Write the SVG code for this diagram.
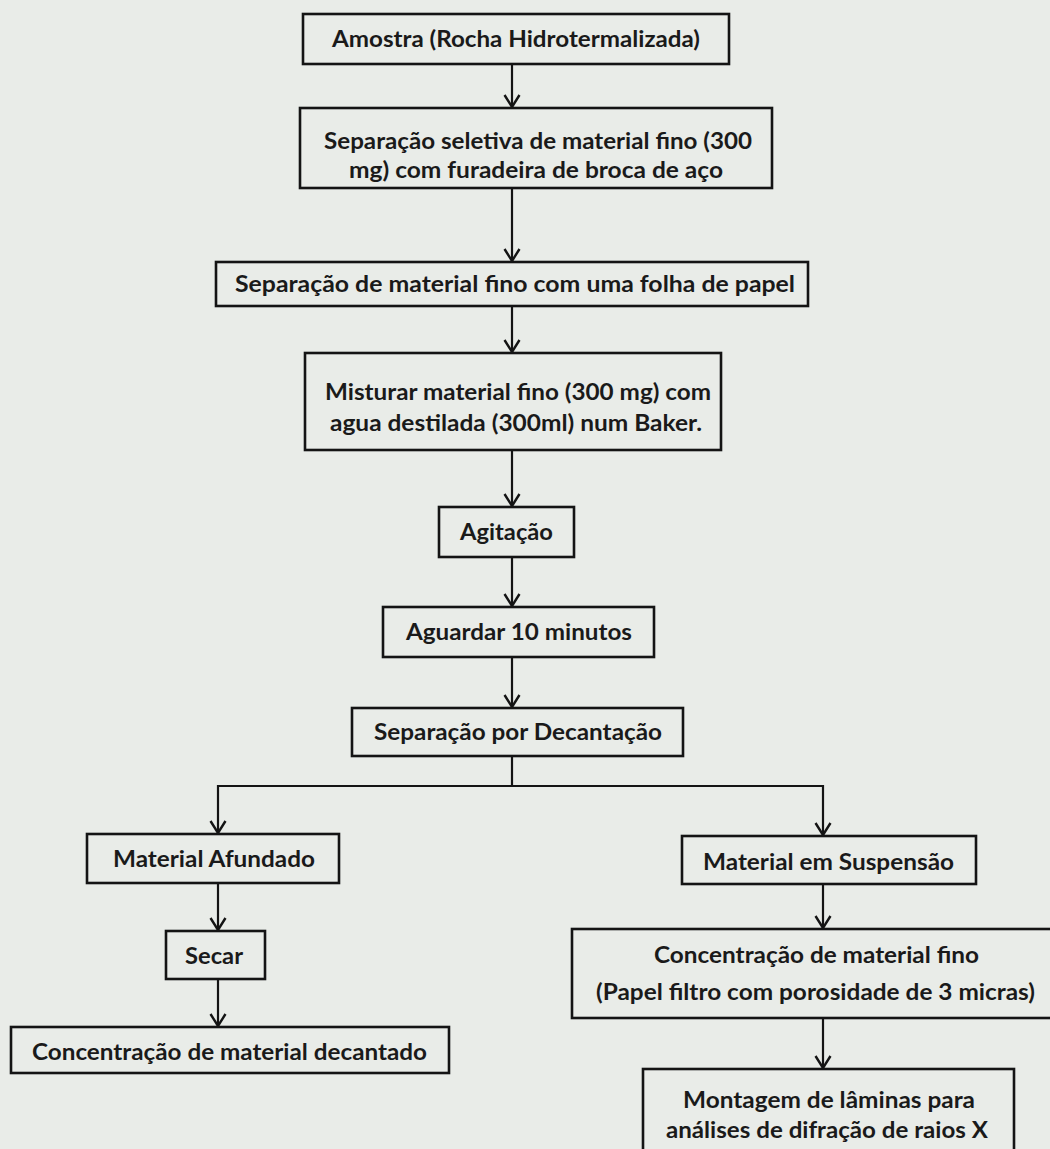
<svg xmlns="http://www.w3.org/2000/svg" width="1050" height="1149" viewBox="0 0 1050 1149">
  <defs>
    <marker id="arr" markerUnits="userSpaceOnUse" viewBox="-14 -10 16 20" refX="0" refY="0" markerWidth="16" markerHeight="20" orient="auto">
      <path d="M-12,-7.5 L0,0 L-12,7.5" fill="none" stroke="#141414" stroke-width="2.4" stroke-linejoin="miter"/>
    </marker>
    <style>
      .box { fill: none; stroke: #141414; stroke-width: 2.6; }
      .t { font-family: Lato, "Open Sans", "Liberation Sans", sans-serif; font-weight: 700; font-size: 22px; fill: #1a1a1a; text-anchor: middle; }
      .c { fill: none; stroke: #141414; stroke-width: 2.2; }
      .ca { fill: none; stroke: #141414; stroke-width: 2.2; marker-end: url(#arr); }
    </style>
  </defs>
  <rect x="0" y="0" width="1050" height="1149" fill="#e9ece8"/>

  <g id="connectors">
    <line class="ca" x1="512" y1="64" x2="512" y2="107"/>
    <line class="ca" x1="512" y1="188" x2="512" y2="261"/>
    <line class="ca" x1="512" y1="306" x2="512" y2="352"/>
    <line class="ca" x1="512" y1="450" x2="512" y2="506"/>
    <line class="ca" x1="512" y1="557" x2="512" y2="606"/>
    <line class="ca" x1="512" y1="657" x2="512" y2="707"/>
    <polyline class="c" points="512,756 512,786"/>
    <polyline class="ca" points="512,786 218,786 218,833"/>
    <polyline class="ca" points="512,786 823,786 823,835"/>
    <line class="ca" x1="218" y1="883" x2="218" y2="930"/>
    <line class="ca" x1="218" y1="979" x2="218" y2="1026"/>
    <line class="ca" x1="823" y1="884" x2="823" y2="928"/>
    <line class="ca" x1="823" y1="1018" x2="823" y2="1068"/>
  </g>

  <g id="n1">
    <rect class="box" x="303" y="14" width="426" height="50"/>
    <text class="t" x="516" y="47" textLength="368" lengthAdjust="spacingAndGlyphs">Amostra (Rocha Hidrotermalizada)</text>
  </g>
  <g id="n2">
    <rect class="box" x="300" y="108" width="472" height="80"/>
    <text class="t" x="538" y="149" textLength="428" lengthAdjust="spacingAndGlyphs">Separação seletiva de material fino (300</text>
    <text class="t" x="536" y="178" textLength="374" lengthAdjust="spacingAndGlyphs">mg) com furadeira de broca de aço</text>
  </g>
  <g id="n3">
    <rect class="box" x="216" y="262" width="592" height="44"/>
    <text class="t" x="515" y="292" textLength="560" lengthAdjust="spacingAndGlyphs">Separação de material fino com uma folha de papel</text>
  </g>
  <g id="n4">
    <rect class="box" x="305" y="353" width="416" height="97"/>
    <text class="t" x="518" y="400" textLength="386" lengthAdjust="spacingAndGlyphs">Misturar material fino (300 mg) com</text>
    <text class="t" x="516" y="431" textLength="372" lengthAdjust="spacingAndGlyphs">agua destilada (300ml) num Baker.</text>
  </g>
  <g id="n5">
    <rect class="box" x="439" y="507" width="135" height="50"/>
    <text class="t" x="506.5" y="540" textLength="93" lengthAdjust="spacingAndGlyphs">Agitação</text>
  </g>
  <g id="n6">
    <rect class="box" x="383" y="607" width="271" height="50"/>
    <text class="t" x="519" y="640" textLength="226" lengthAdjust="spacingAndGlyphs">Aguardar 10 minutos</text>
  </g>
  <g id="n7">
    <rect class="box" x="352" y="708" width="331" height="48"/>
    <text class="t" x="518" y="740" textLength="288" lengthAdjust="spacingAndGlyphs">Separação por Decantação</text>
  </g>
  <g id="n8">
    <rect class="box" x="87" y="834" width="252" height="49"/>
    <text class="t" x="214" y="867" textLength="202" lengthAdjust="spacingAndGlyphs">Material Afundado</text>
  </g>
  <g id="n9">
    <rect class="box" x="166" y="931" width="99" height="48"/>
    <text class="t" x="214" y="964" textLength="58" lengthAdjust="spacingAndGlyphs">Secar</text>
  </g>
  <g id="n10">
    <rect class="box" x="11" y="1027" width="438" height="46"/>
    <text class="t" x="229.5" y="1060" textLength="395" lengthAdjust="spacingAndGlyphs">Concentração de material decantado</text>
  </g>
  <g id="n11">
    <rect class="box" x="682" y="836" width="294" height="48"/>
    <text class="t" x="828.5" y="870" textLength="251" lengthAdjust="spacingAndGlyphs">Material em Suspensão</text>
  </g>
  <g id="n12">
    <rect class="box" x="572" y="929" width="490" height="89"/>
    <text class="t" x="816.5" y="963" textLength="325" lengthAdjust="spacingAndGlyphs">Concentração de material fino</text>
    <text class="t" x="815.5" y="1000" textLength="439" lengthAdjust="spacingAndGlyphs">(Papel filtro com porosidade de 3 micras)</text>
  </g>
  <g id="n13">
    <rect class="box" x="643" y="1069" width="371" height="95"/>
    <text class="t" x="829" y="1108" textLength="292" lengthAdjust="spacingAndGlyphs">Montagem de lâminas para</text>
    <text class="t" x="827" y="1138" textLength="322" lengthAdjust="spacingAndGlyphs">análises de difração de raios X</text>
  </g>
</svg>
